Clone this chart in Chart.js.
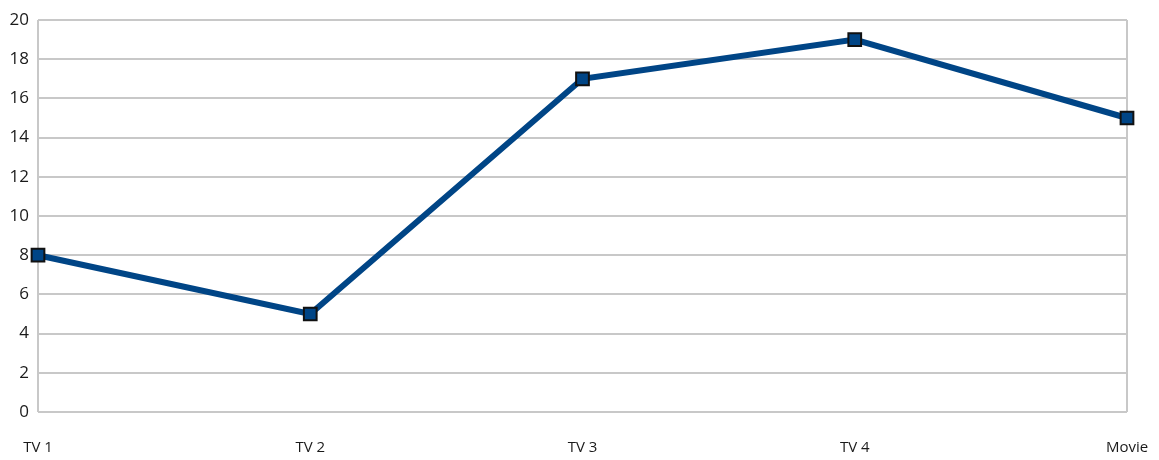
<!DOCTYPE html>
<html>
<head>
<meta charset="utf-8">
<script src="https://cdn.jsdelivr.net/npm/chart.js@4/dist/chart.umd.min.js"></script>
<style>
html,body{margin:0;padding:0;background:#fff;}
#wrap{width:1159px;height:460px;position:relative;}
</style>
</head>
<body>
<div id="wrap"><canvas id="c" width="1159" height="460"></canvas></div>
<script>
const categories = ["TV 1", "TV 2", "TV 3", "TV 4", "Movie"];
const values = [8, 5, 17, 19, 15];
const yMin = 0, yMax = 20, yStep = 2;

new Chart(document.getElementById('c'), {
  type: 'line',
  data: {
    labels: categories,
    datasets: [{
      data: values,
      borderColor: '#004586',
      borderWidth: 6,
      pointStyle: 'rect',
      pointRadius: 9,
      pointHoverRadius: 9,
      pointBackgroundColor: '#004586',
      pointBorderColor: '#111111',
      pointBorderWidth: 2,
      tension: 0,
      fill: false
    }]
  },
  options: {
    responsive: false,
    animation: false,
    layout: { padding: { left: 0, right: 32, top: 20, bottom: 0 } },
    plugins: { legend: { display: false }, tooltip: { enabled: false } },
    scales: {
      x: {
        offset: false,
        border: { display: false },
        grid: {
          drawTicks: false,
          lineWidth: 2,
          color: (ctx) => (ctx.index === 0 || ctx.index === categories.length - 1) ? '#c8c8c8' : 'rgba(0,0,0,0)'
        },
        ticks: {
          padding: 27,
          color: '#1a1a1a',
          font: { family: 'Open Sans', size: 15 },
          maxRotation: 0
        },
        afterFit: (s) => { s.height = 48; s.paddingLeft = 0; s.paddingRight = 0; }
      },
      y: {
        min: yMin, max: yMax,
        border: { display: false },
        grid: { drawTicks: false, lineWidth: 2, color: '#c8c8c8' },
        ticks: {
          stepSize: yStep,
          padding: 9,
          color: '#1a1a1a',
          font: { family: 'Open Sans', size: 17 }
        },
        afterFit: (s) => { s.width = 38; s.paddingTop = 0; s.paddingBottom = 0; }
      }
    }
  }
});
</script>
</body>
</html>
